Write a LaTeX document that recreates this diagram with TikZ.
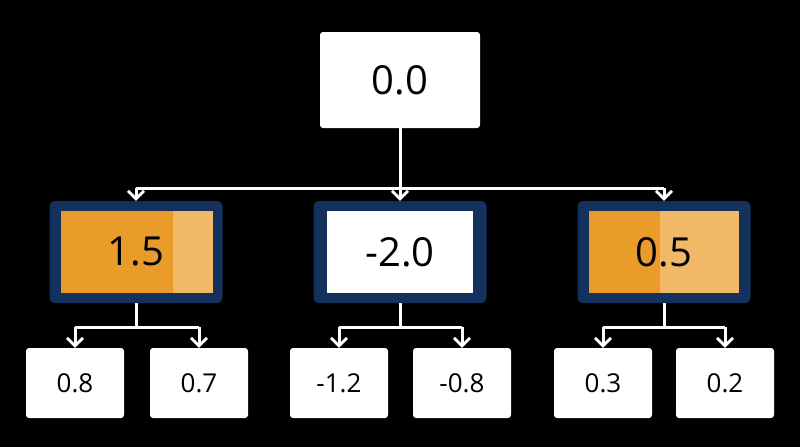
\documentclass[tikz,border=0pt]{standalone}
\usepackage{fontspec}
\setmainfont{Open Sans}
\usetikzlibrary{arrows.meta}
\definecolor{navy}{HTML}{13315C}
\definecolor{org}{HTML}{E99C2A}
\definecolor{lorg}{HTML}{F0B867}
\begin{document}
\begin{tikzpicture}[x=1pt,y=-1pt,
 wbox/.style={draw=none,fill=white,rounded corners=3pt,minimum width=#1,font=\fontsize{26}{30}\selectfont},
 conn/.style={white,line width=3pt,-{Straight Barb[length=8pt,width=16pt,line width=2.8pt]}},
 line/.style={white,line width=3pt}]
\useasboundingbox[fill=black] (0,0) rectangle (800,447);
\node[wbox=160pt,minimum height=96pt,font=\fontsize{40}{46}\selectfont] (top) at (400,80) {0.0};
% middle boxes
\foreach \n/\cx in {L/136,M/400,R/664}{
 \node[fill=navy,rounded corners=5pt,minimum width=173pt,minimum height=102pt,inner sep=0] (\n) at (\cx,252) {};
}
\fill[org] (61,211) rectangle (173,293);
\fill[lorg] (173,211) rectangle (213,293);
\fill[white] (327,211) rectangle (473,293);
\fill[org] (589,211) rectangle (660,293);
\fill[lorg] (660,211) rectangle (739,293);
\node[font=\fontsize{40}{46}\selectfont] (tL) at (136,252) {1.5};
\node[font=\fontsize{40}{46}\selectfont] (tM) at (400,252) {-2.0};
\node[font=\fontsize{40}{46}\selectfont] (tR) at (664,252) {0.5};
% bottom
\foreach \n/\cx/\t in {a/75/0.8,b/199/0.7,c/339/-1.2,d/462/-0.8,e/603/0.3,f/725/0.2}{
 \node[wbox=98pt,minimum height=70pt] (\n) at (\cx,383) {\t};
}
\coordinate (j0) at (400,188);
\draw[line] (top.south) -- (j0);
\draw[line] (136,188) -- (664,188);
\draw[conn] (136,188) -- (L.north);
\draw[conn] (j0) -- (M.north);
\draw[conn] (664,188) -- (R.north);
\foreach \p/\u/\v in {L/a/b,M/c/d,R/e/f}{
 \draw[line] (\p.south) -- (\p.south |- 0,327);
 \draw[line] (\u.north |- 0,327) -- (\v.north |- 0,327);
 \draw[conn] (\u.north |- 0,327) -- (\u.north);
 \draw[conn] (\v.north |- 0,327) -- (\v.north);
}
\end{tikzpicture}
\end{document}
